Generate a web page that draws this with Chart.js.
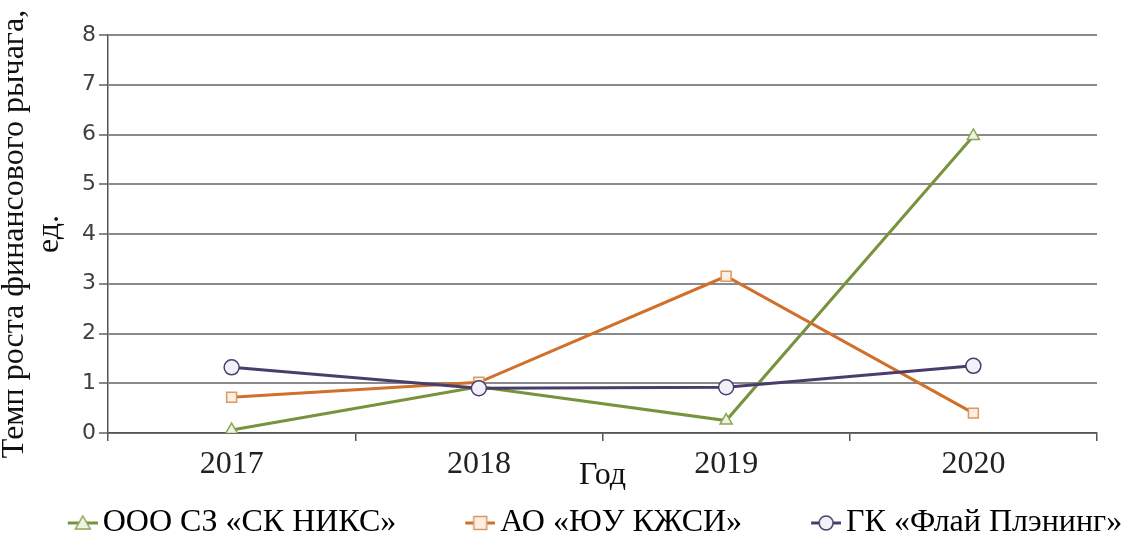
<!DOCTYPE html>
<html lang="ru">
<head>
<meta charset="UTF-8">
<title>Темп роста финансового рычага</title>
<script src="https://cdn.jsdelivr.net/npm/chart.js"></script>
<style>
    html, body { margin: 0; padding: 0; background: #fff; }
    #wrap { width: 1124px; height: 537px; }
</style>
</head>
<body>
<div id="wrap"><canvas id="chart"></canvas></div>
<script>
// data
var years = ['2017', '2018', '2019', '2020'];
var seriesNames = ['ООО СЗ «СК НИКС»', 'АО «ЮУ КЖСИ»', 'ГК «Флай Плэнинг»'];
var niksValues = [0.06, 0.93, 0.25, 5.97];
var kzhsiValues = [0.72, 1.02, 3.15, 0.40];
var flyValues = [1.32, 0.90, 0.92, 1.35];
var yTicks = [0, 1, 2, 3, 4, 5, 6, 7, 8];

var serif = "'Liberation Serif', 'Times New Roman', serif";

// look of each series
var styles = [
    { shape: 'triangle', line: '#77933C', fill: '#EEF3E2', stroke: '#8CA65A', r: 7 },
    { shape: 'rect', line: '#D0702A', fill: '#FDEEDF', stroke: '#D99A66', r: 7 },
    { shape: 'circle', line: '#4A3D6C', fill: '#F3F1F8', stroke: '#4A3D6C', r: 7.5 }
];

// side overhang so the wide legend fits on one row
var SIDE = -30;

// legend symbol: short line with marker, transparent space on the left
var BOX_W = 85;
function legendSymbol(st) {
    var c = document.createElement('canvas');
    c.width = BOX_W + 22;
    c.height = 20;
    var g = c.getContext('2d');
    var x0 = c.width - 30, cx = c.width - 15, cy = 10;
    g.strokeStyle = st.line;
    g.lineWidth = 3;
    g.beginPath();
    g.moveTo(x0, cy);
    g.lineTo(c.width, cy);
    g.stroke();
    g.fillStyle = st.fill;
    g.strokeStyle = st.stroke;
    g.lineWidth = 1.5;
    g.beginPath();
    if (st.shape === 'triangle') {
        g.moveTo(cx, cy - 7);
        g.lineTo(cx + 7.5, cy + 6);
        g.lineTo(cx - 7.5, cy + 6);
        g.closePath();
    } else if (st.shape === 'rect') {
        g.rect(cx - 6.5, cy - 6.5, 13, 13);
    } else {
        g.arc(cx, cy, 7, 0, Math.PI * 2);
    }
    g.fill();
    g.stroke();
    return c;
}

function makeDataset(i, values, order) {
    var st = styles[i];
    return {
        label: seriesNames[i],
        data: values,
        borderColor: st.line,
        backgroundColor: st.fill,
        borderWidth: 3,
        tension: 0,
        pointStyle: st.shape,
        pointRadius: st.r,
        pointHoverRadius: st.r,
        pointBackgroundColor: st.fill,
        pointBorderColor: st.stroke,
        pointBorderWidth: 1.5,
        order: order
    };
}

var ctx = document.getElementById('chart').getContext('2d');
var chart = new Chart(ctx, {
    type: 'line',
    data: {
        labels: years,
        datasets: [
            makeDataset(0, niksValues, 3),
            makeDataset(1, kzhsiValues, 2),
            makeDataset(2, flyValues, 1)
        ]
    },
    options: {
        responsive: true,
        maintainAspectRatio: false,
        animation: false,
        layout: { padding: { top: 35, right: SIDE, bottom: -12, left: SIDE } },
        plugins: {
            tooltip: { enabled: false },
            legend: {
                position: 'bottom',
                labels: {
                    usePointStyle: true,
                    pointStyleWidth: BOX_W,
                    padding: 3,
                    color: '#111',
                    font: { family: serif, size: 32 },
                    generateLabels: function (chart) {
                        return chart.data.datasets.map(function (ds, i) {
                            return {
                                text: ds.label,
                                pointStyle: legendSymbol(styles[i]),
                                fillStyle: styles[i].fill,
                                strokeStyle: styles[i].line,
                                lineWidth: 0,
                                datasetIndex: i,
                                hidden: false
                            };
                        });
                    }
                }
            }
        },
        scales: {
            x: {
                offset: true,
                grid: {
                    offset: true,
                    drawOnChartArea: false,
                    drawTicks: true,
                    tickLength: 8,
                    color: '#555',
                    lineWidth: 1.5
                },
                border: { color: '#555', width: 1.5 },
                ticks: {
                    padding: 4,
                    color: '#222',
                    font: { family: serif, size: 32 }
                },
                title: {
                    display: true,
                    text: 'Год',
                    color: '#111',
                    font: { family: serif, size: 32 },
                    padding: { top: 0, bottom: 8.8 }
                },
                afterFit: function (s) { s.height = 71; }
            },
            y: {
                min: yTicks[0],
                max: yTicks[yTicks.length - 1],
                grid: {
                    color: '#8a8a8a',
                    lineWidth: 2,
                    tickLength: 9
                },
                border: { color: '#555', width: 1.5 },
                ticks: {
                    stepSize: 1,
                    padding: 3,
                    color: '#404040',
                    font: { family: "'DejaVu Sans', sans-serif", size: 22 }
                },
                title: {
                    display: true,
                    text: ['Темп роста финансового рычага,', 'ед.'],
                    color: '#111',
                    font: { family: serif, size: 32, lineHeight: 1.094 },
                    padding: { top: -2.5 - SIDE, bottom: 0 }
                },
                afterFit: function (s) { s.width = 108 - SIDE; }
            },
            yRight: {
                position: 'right',
                display: true,
                grid: { display: false },
                border: { display: false },
                ticks: { display: false },
                afterFit: function (s) { s.width = 27 - SIDE; }
            }
        }
    }
});
</script>
</body>
</html>
